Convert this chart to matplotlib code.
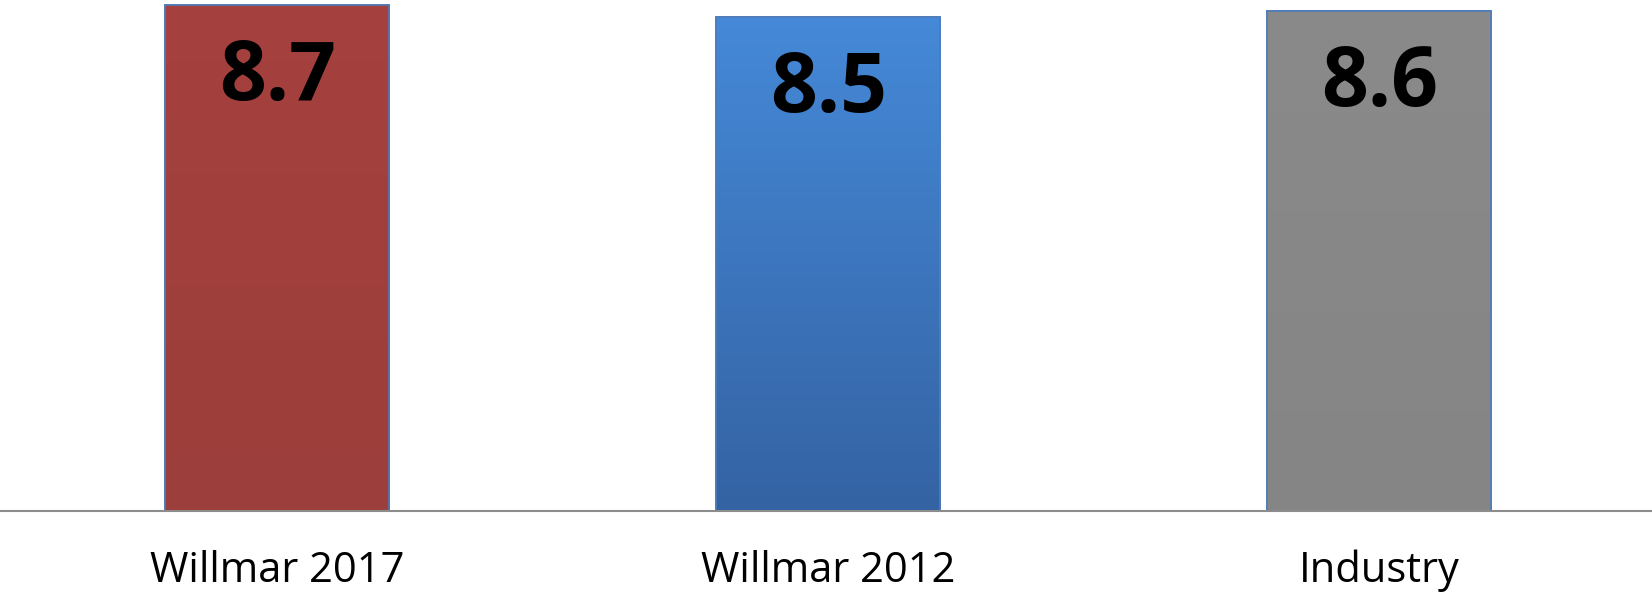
import numpy as np
import matplotlib.pyplot as plt

categories = ["Willmar 2017", "Willmar 2012", "Industry"]
values = [8.7, 8.5, 8.6]
labels = ["8.7", "8.5", "8.6"]

face_colors = ["#A03F3C", "#3D77C4", "#878787"]
# top / bottom colours for a light vertical gradient
grad_top = ["#A5413E", "#4589D8", "#8A8A8A"]
grad_bottom = ["#9C3E3B", "#3463A3", "#858585"]

plt.rcParams["font.family"] = ["Open Sans", "DejaVu Sans"]

fig = plt.figure(figsize=(16.52, 5.98), dpi=100)
ax = fig.add_axes([0, 1 - 511 / 598, 1, 511 / 598])

x = np.arange(len(categories))
bars = ax.bar(x, values, width=0.407, color=face_colors,
              edgecolor="#4F7CB8", linewidth=1.2, zorder=2)

# gradient fill clipped to each bar
for bar, top, bot in zip(bars, grad_top, grad_bottom):
    c1 = np.array(plt.matplotlib.colors.to_rgb(top))
    c2 = np.array(plt.matplotlib.colors.to_rgb(bot))
    t = np.linspace(0, 1, 256)[:, None]
    img = (c1 * (1 - t) + c2 * t)[:, None, :]
    bx, by = bar.get_x(), bar.get_y()
    bw, bh = bar.get_width(), bar.get_height()
    im = ax.imshow(img, extent=[bx, bx + bw, by, by + bh], aspect="auto",
                   origin="upper", zorder=2.5)
    im.set_clip_path(bar)
    # outline on top
    ax.bar(bx + bw / 2, bh, width=bw, fill=False, edgecolor="#4F7CB8",
           linewidth=1.2, zorder=3)

for xi, v, lab in zip(x, values, labels):
    ax.text(xi, v - 0.55, lab, ha="center", va="top", fontsize=59,
            fontweight="bold", color="black", zorder=4)

ax.set_xlim(-0.503, 2.495)
ax.set_ylim(0, 8.79)
ax.set_xticks(x)
ax.set_xticklabels(categories, fontsize=30)
ax.tick_params(axis="x", length=0, pad=28)
ax.set_yticks([])
for s in ["top", "right", "left"]:
    ax.spines[s].set_visible(False)
ax.spines["bottom"].set_color("#8C8C8C")
ax.spines["bottom"].set_linewidth(1.5)
ax.spines["bottom"].set_zorder(5)

fig.savefig("out.png", dpi=100)
